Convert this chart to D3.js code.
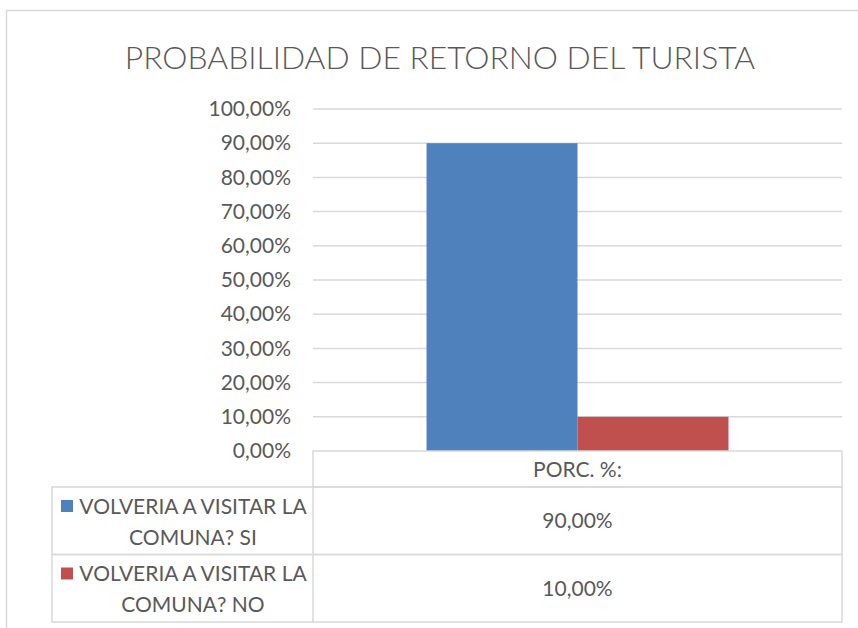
<!DOCTYPE html>
<html><head><meta charset="utf-8">
<script src="https://cdn.jsdelivr.net/npm/d3@7"></script>
<style>
html,body{margin:0;padding:0;background:#fff;}
svg{display:block;font-family:Lato,"Open Sans",sans-serif;}
</style></head>
<body><svg id="c" width="858" height="628"></svg>
<script>
const title = "PROBABILIDAD DE RETORNO DEL TURISTA";
const categories = ["PORC. %:"];
const seriesNames = [["VOLVERIA A VISITAR LA", "COMUNA? SI"], ["VOLVERIA A VISITAR LA", "COMUNA? NO"]];
const seriesValues = [0.90, 0.10];
const valueLabels = ["90,00%", "10,00%"];
const seriesColors = ["#4f81bd", "#c0504d"];
const yTicks = [0, 0.1, 0.2, 0.3, 0.4, 0.5, 0.6, 0.7, 0.8, 0.9, 1.0];

const svg = d3.select("#c");
const textCol = "#595959", lineCol = "#d9d9d9";
const fs = 21;
const fmt = v => d3.format(".2f")(v * 100).replace(".", ",") + "%";

// outer chart frame
svg.append("rect").attr("x", 6.5).attr("y", 10.5).attr("width", 900).attr("height", 700)
  .attr("fill", "none").attr("stroke", lineCol).attr("stroke-width", 1.5);

// title
svg.append("text").attr("x", 440).attr("y", 69).attr("text-anchor", "middle")
  .attr("font-size", 31.8).attr("font-weight", 300).attr("fill", textCol).text(title);

const plotL = 313, plotR = 842, plotT = 109, plotB = 451;
const y = d3.scaleLinear().domain([0, 1]).range([plotB, plotT]);
const x0 = d3.scaleBand().domain(categories).range([plotL, plotR]).paddingInner(0).paddingOuter(0.376);
const x1 = d3.scaleBand().domain(d3.range(seriesValues.length)).range([0, x0.bandwidth()]).padding(0);

// gridlines
svg.append("g").selectAll("line").data(yTicks.slice(1)).join("line")
  .attr("x1", plotL).attr("x2", plotR).attr("y1", d => y(d)).attr("y2", d => y(d))
  .attr("stroke", lineCol).attr("stroke-width", 1.5);

// y axis labels
const yAxis = d3.axisLeft(y).tickValues(yTicks).tickFormat(fmt).tickSize(0).tickPadding(0);
const ga = svg.append("g").attr("transform", `translate(291,0)`).call(yAxis);
ga.select(".domain").remove();
ga.selectAll("text").attr("font-size", fs).attr("fill", textCol).attr("font-family", "Lato,'Open Sans',sans-serif");

// bars
svg.append("g").selectAll("rect").data(seriesValues).join("rect")
  .attr("x", (d, i) => x0(categories[0]) + x1(i))
  .attr("width", x1.bandwidth())
  .attr("y", d => y(d)).attr("height", d => y(0) - y(d))
  .attr("fill", (d, i) => seriesColors[i]);

// data table
const tbl = svg.append("g");
const headT = 451, headB = 487, rowH = 67.5, tblL = 52;
const lineAttrs = s => s.attr("stroke", lineCol).attr("stroke-width", 1.5).attr("fill", "none");
tbl.append("rect").attr("x", plotL).attr("y", headT).attr("width", plotR - plotL).attr("height", headB - headT).call(lineAttrs);
seriesValues.forEach((v, i) => {
  const top = headB + i * rowH;
  tbl.append("rect").attr("x", tblL).attr("y", top).attr("width", plotR - tblL).attr("height", rowH).call(lineAttrs);
  tbl.append("line").attr("x1", plotL).attr("x2", plotL).attr("y1", top).attr("y2", top + rowH).call(lineAttrs);
  // value
  tbl.append("text").attr("x", x0(categories[0]) + x0.bandwidth() / 2).attr("y", top + rowH / 2 + 7.5)
    .attr("text-anchor", "middle").attr("font-size", fs).attr("fill", textCol).text(valueLabels[i]);
  // legend key
  const cx = 193;
  tbl.append("rect").attr("x", 61).attr("y", top + 13).attr("width", 12).attr("height", 12).attr("fill", seriesColors[i]);
  seriesNames[i].forEach((ln, j) => {
    tbl.append("text").attr("x", cx).attr("y", top + 26.5 + j * 31).attr("text-anchor", "middle")
      .attr("font-size", fs).attr("fill", textCol).text(ln);
  });
});
tbl.append("text").attr("x", x0(categories[0]) + x0.bandwidth() / 2).attr("y", (headT + headB) / 2 + 7.5)
  .attr("text-anchor", "middle").attr("font-size", fs).attr("fill", textCol).text(categories[0]);
</script></body></html>
